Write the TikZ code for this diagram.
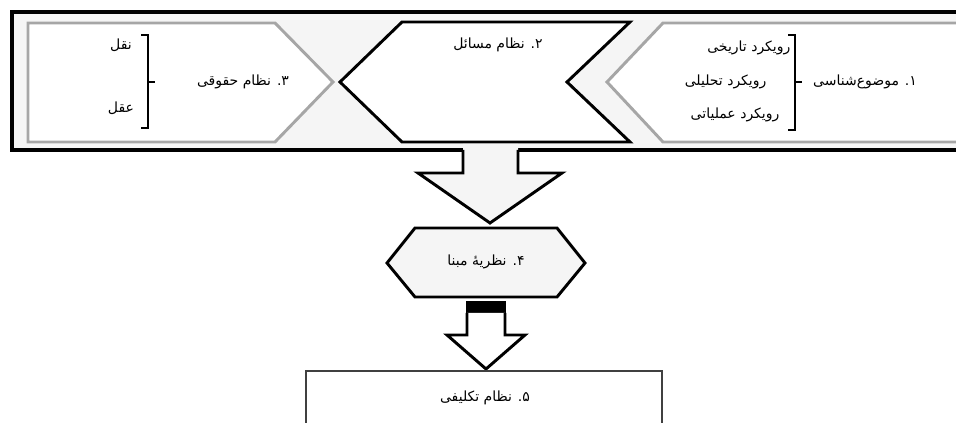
\documentclass[tikz,border=0pt]{standalone}
\usepackage{fontspec}
\newfontfamily\fa[Script=Arabic]{DejaVu Sans}
\TeXXeTstate=1
\usetikzlibrary{positioning}
\newcommand{\fatxt}[1]{\beginR #1\endR}

\begin{document}
\begin{tikzpicture}[x=0.75pt, y=-0.75pt,
        lbl/.style = {font=\fa\fontsize{10.5}{12}\selectfont, inner sep=1pt},
        graybox/.style = {draw=black!35, line width=2.2pt, fill=white, line join=miter},
        blackbox/.style = {draw=black, line width=2.2pt, fill=white, line join=miter},
        blockarrow/.style = {draw=black, line width=2.2pt, line join=miter},
        brk/.style = {draw=black, line width=0.8pt}]
        \useasboundingbox (0,0) rectangle (956,423);
        \clip (0,0) rectangle (956,423);

        % frame with the three parts
        \draw[line width=3pt, fill=black!4] (12,12) rectangle (975,150);
        \draw[graybox] (28,23) -- (275,23) -- (333,82) -- (275,142) -- (28,142) -- cycle;
        \draw[blackbox] (402,22) -- (630,22) -- (567,82) -- (630,142) -- (402,142) -- (340,82) -- cycle;
        \draw[graybox] (980,23) -- (663,23) -- (607,82) -- (663,142) -- (980,142);

        \node[lbl] (n1) at (865,82) {\fatxt{۱. موضوع‌شناسی}};
        \node[lbl, anchor=east] (t11) at (792,48) {\fatxt{رویکرد تاریخی}};
        \node[lbl, anchor=east] (t12) at (768,82) {\fatxt{رویکرد تحلیلی}};
        \node[lbl, anchor=east] (t13) at (781,115) {\fatxt{رویکرد عملیاتی}};
        \coordinate (b1) at (795,82);
        \draw[brk] ([xshift=-5]b1 |- 0,35) -- (b1 |- 0,35) -- (b1 |- 0,130) -- ([xshift=-5]b1 |- 0,130);
        \draw[brk] (b1) -- ++(7,0);

        \node[lbl] (n2) at (498,45) {\fatxt{۲. نظام مسائل}};

        \node[lbl] (n3) at (243,82) {\fatxt{۳. نظام حقوقی}};
        \node[lbl] (t31) at (121,45) {\fatxt{نقل}};
        \node[lbl] (t32) at (121,108) {\fatxt{عقل}};
        \coordinate (b3) at (148,82);
        \draw[brk] ([xshift=-5]b3 |- 0,35) -- (b3 |- 0,35) -- (b3 |- 0,128) -- ([xshift=-5]b3 |- 0,128);
        \draw[brk] (b3) -- ++(7,0);

        % big arrow down
        \fill[black!4] (463,144) -- (463,173) -- (418,173) -- (490,223) -- (562,173) -- (518,173) -- (518,144) -- cycle;
        \draw[blockarrow] (463,150) -- (463,173) -- (418,173) -- (490,223) -- (562,173) -- (518,173) -- (518,150);

        \draw[blockarrow, fill=black!4] (415,228) -- (557,228) -- (585,263) -- (557,297) -- (415,297) -- (387,263) -- cycle;
        \node[lbl] (n4) at (486,262) {\fatxt{۴. نظریهٔ مبنا}};

        % small arrow down
        \fill[black] (466,301) rectangle (506,314);
        \draw[blockarrow, fill=white] (467,313) -- (467,335) -- (447,335) -- (486,369) -- (525,335) -- (505,335) -- (505,313);

        \draw[draw=black!75, line width=2pt, fill=white] (306,371) rectangle (662,440);
        \node[lbl] (n5) at (485,398) {\fatxt{۵. نظام تکلیفی}};
    \end{tikzpicture}
\end{document}
